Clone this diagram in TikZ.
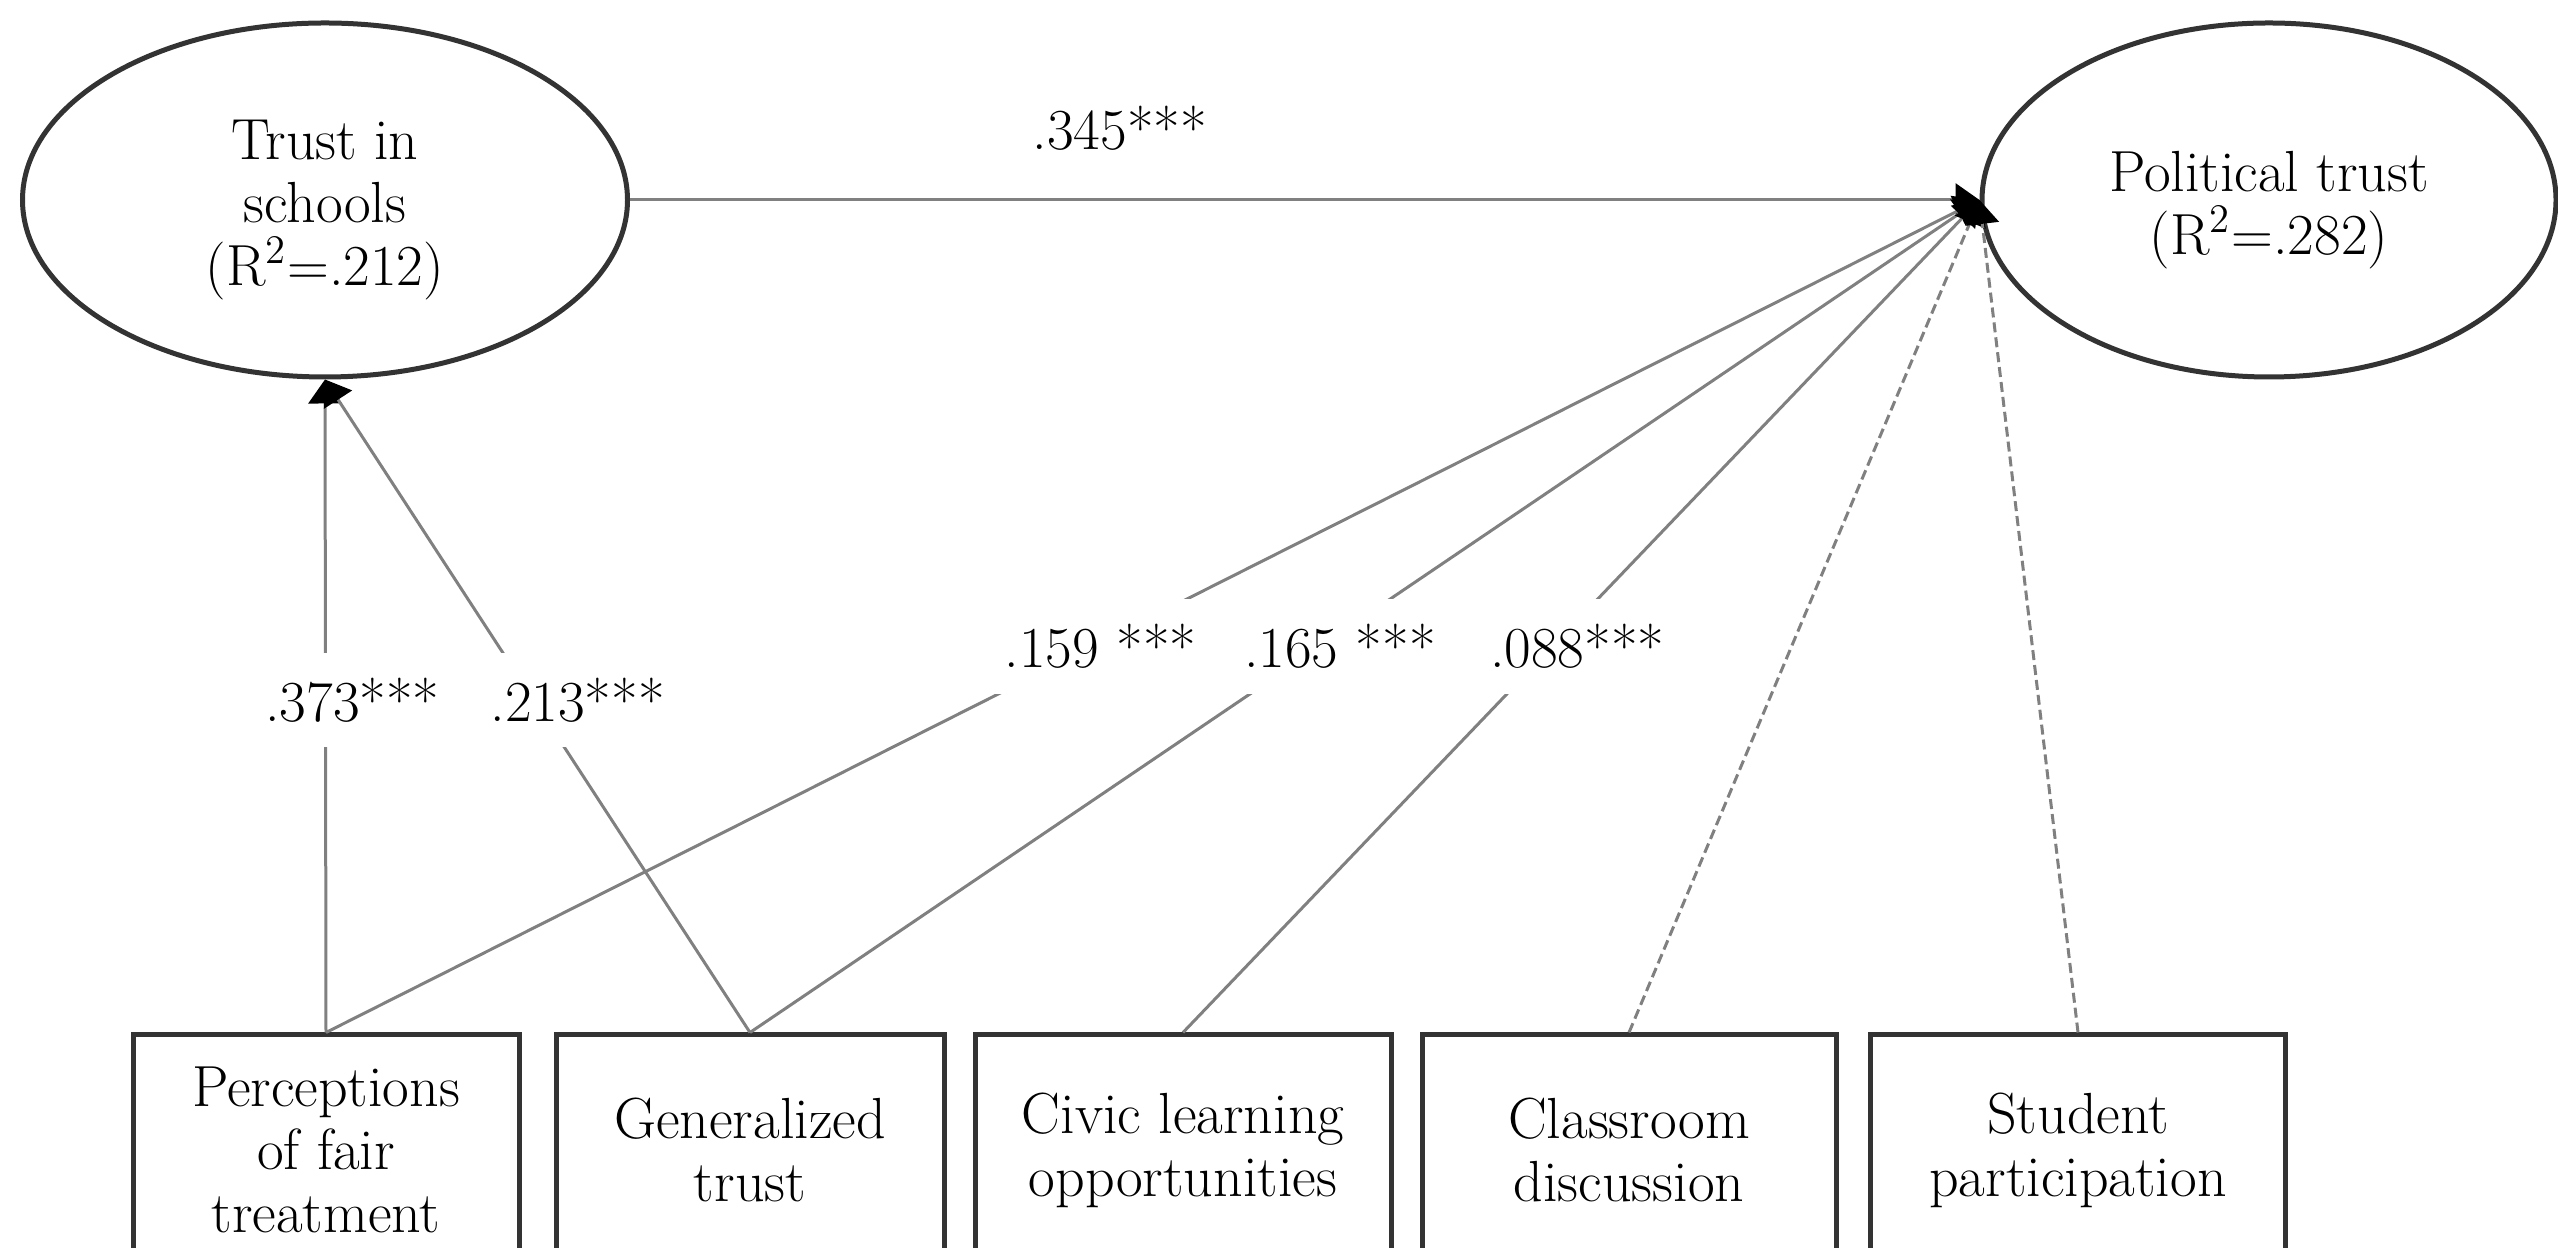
\documentclass[tikz,border=0pt]{standalone}
\usepackage{tikz}
\usetikzlibrary{arrows.meta,shapes.geometric}

\begin{document}
\begin{tikzpicture}[
		latent/.style={ellipse, draw=black!80, line width=0.05cm, inner sep=0pt, align=center, minimum height=3.54cm},
		observed/.style={rectangle, draw=black!80, line width=0.05cm, inner sep=0pt, align=center, minimum height=2.3cm},
		effect/.style={draw=black!50, line width=0.03cm, -{Triangle[length=0.24cm, width=0.33cm, color=black]}},
		nseffect/.style={effect, dash pattern=on 0.1cm off 0.05cm},
		coef/.style={fill=white, inner xsep=0.2cm, inner ysep=0.25cm},
		font=\fontsize{16.5}{17.9}\selectfont
	]
		%%%%% START %%%%%
		
		\useasboundingbox (0, 0) rectangle (25.58, 12.47);
		\clip (0, 0) rectangle (25.58, 12.47);
		
		\node[latent, minimum width=6.05cm] (schools) at (3.25, 10.47) {\rule{0pt}{0.6cm}Trust in\\schools\\(R\textsuperscript{2}=.212)};
		\node[latent, minimum width=5.74cm] (poltrust) at (22.69, 10.47) {\rule{0pt}{0.6cm}Political trust\\(R\textsuperscript{2}=.282)};
		
		\node[observed, minimum width=3.86cm] (fair) at (3.26, 0.97) {Perceptions\\of fair\\treatment};
		\node[observed, minimum width=3.88cm] (gentrust) at (7.50, 0.97) {Generalized\\trust};
		\node[observed, minimum width=4.16cm] (civic) at (11.83, 0.97) {Civic learning\\opportunities};
		\node[observed, minimum width=4.14cm] (discuss) at (16.29, 0.97) {Classroom\\discussion};
		\node[observed, minimum width=4.15cm] (particip) at (20.78, 0.97) {Student\\participation};
		
		\draw[effect] (schools.east) -- node[pos=0.363, yshift=0.72cm] (c345) {.345***} (poltrust.west);
		
		\draw[effect] (fair.north) -- node[coef, pos=0.509, xshift=0.27cm] (c373) {.373***} (schools.south);
		\draw[effect] (gentrust.north) -- node[coef, pos=0.509, xshift=0.44cm] (c213) {.213***} (schools.south);
		
		\draw[effect] (fair.north) -- node[coef, pos=0.4635, xshift=0.08cm] (c159) {.159 ***} (poltrust.west);
		\draw[effect] (gentrust.north) -- node[coef, pos=0.4635, xshift=0.2cm] (c165) {.165 ***} (poltrust.west);
		\draw[effect] (civic.north) -- node[coef, pos=0.4635, xshift=0.25cm] (c088) {.088***} (poltrust.west);
		\draw[nseffect] (discuss.north) -- (poltrust.west);
		\draw[nseffect] (particip.north) -- (poltrust.west);
		
		%%%%% END %%%%%
	\end{tikzpicture}
\end{document}
